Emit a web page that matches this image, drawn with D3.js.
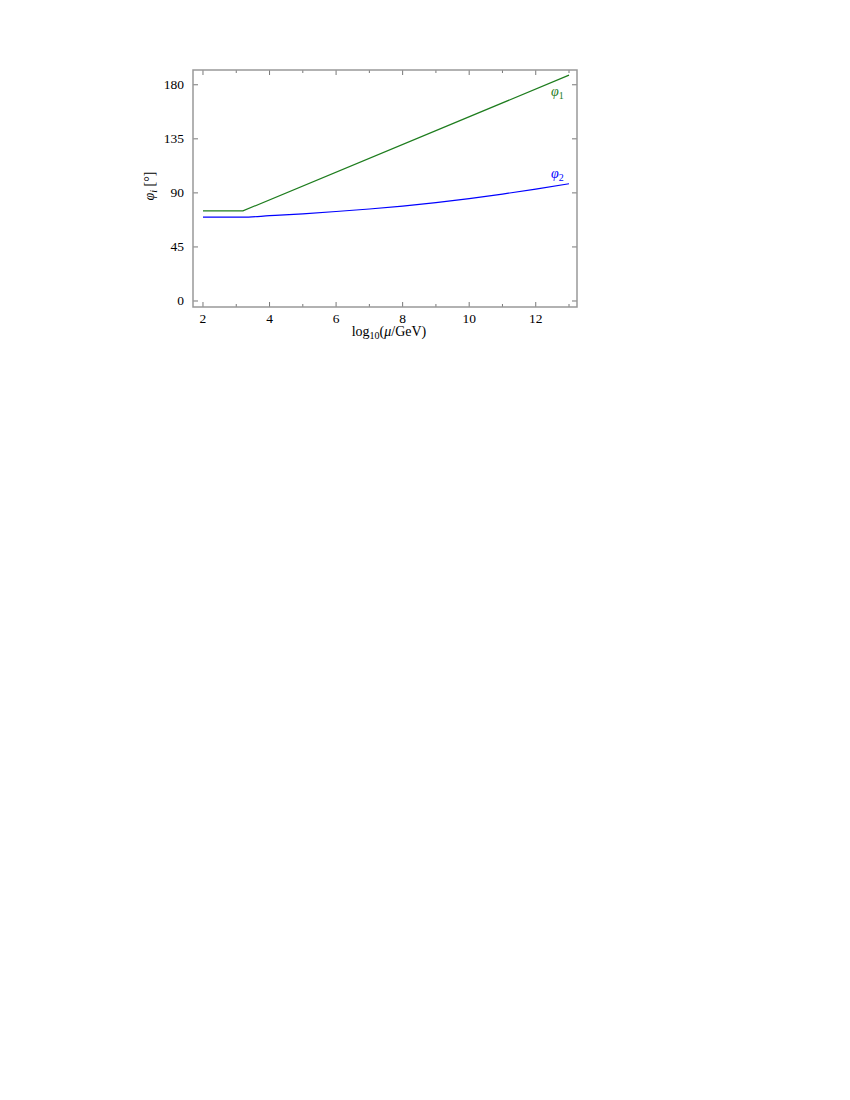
<!DOCTYPE html>
<html><head><meta charset="utf-8">
<script src="https://cdn.jsdelivr.net/npm/d3@7"></script>
<style>body{margin:0;background:#fff}text{font-family:"Liberation Serif","Times New Roman",serif}</style>
</head><body><svg id="c" width="850" height="1100"></svg>
<script>
const xMajor = [2,4,6,8,10,12];
const xMinor = [3,5,7,9,11,13];
const yTicks = [0,45,90,135,180];
const phi1X = [2, 3.2, 13];
const phi1Y = [75, 75, 188];
const phi2X = [2, 3.2, 4, 5, 6, 7, 8, 9, 10, 11, 12, 13];
const phi2Y = [69.8, 69.8, 71.0, 72.6, 74.5, 76.6, 79.0, 81.9, 85.2, 89.0, 93.2, 97.6];

const svg = d3.select("#c");
const L=193, R=577, T=70, B=307;
const x = d3.scaleLinear().domain([1.7,13.24]).range([L,R]);
const y = d3.scaleLinear().domain([-5,192.3]).range([B,T]);
const frame="#999";

const line = d3.line().x(d=>x(d[0])).y(d=>y(d[1]));
svg.append("path").datum(phi1X.map((v,i)=>[v,phi1Y[i]])).attr("d",line)
  .attr("fill","none").attr("stroke","#1e7d1e").attr("stroke-width",1.2);
svg.append("path").datum(phi2X.map((v,i)=>[v,phi2Y[i]])).attr("d",d3.line().curve(d3.curveMonotoneX).x(d=>x(d[0])).y(d=>y(d[1])))
  .attr("fill","none").attr("stroke","#0000ff").attr("stroke-width",1.2);

const g = svg.append("g");
const allX = xMajor.concat(xMinor);
allX.forEach(v=>{
  const len = xMajor.includes(v)?5:3;
  g.append("line").attr("x1",x(v)).attr("x2",x(v)).attr("y1",B).attr("y2",B-len).attr("stroke","#555").attr("stroke-width",0.8);
  g.append("line").attr("x1",x(v)).attr("x2",x(v)).attr("y1",T).attr("y2",T+len).attr("stroke","#555").attr("stroke-width",0.8);
});
yTicks.forEach(v=>{
  g.append("line").attr("x1",L).attr("x2",L+5).attr("y1",y(v)).attr("y2",y(v)).attr("stroke","#555").attr("stroke-width",0.8);
  g.append("line").attr("x1",R).attr("x2",R-5).attr("y1",y(v)).attr("y2",y(v)).attr("stroke","#555").attr("stroke-width",0.8);
});
g.append("rect").attr("x",L).attr("y",T).attr("width",R-L).attr("height",B-T)
  .attr("fill","none").attr("stroke",frame).attr("stroke-width",1.5);

xMajor.forEach(v=>{
  svg.append("text").attr("x",x(v)).attr("y",B+16).attr("text-anchor","middle").attr("font-size",13.5).text(v);
});
yTicks.forEach(v=>{
  svg.append("text").attr("x",L-9).attr("y",y(v)+4.5).attr("text-anchor","end").attr("font-size",13.5).text(v);
});

const xt = svg.append("text").attr("x",389).attr("y",336).attr("text-anchor","middle").attr("font-size",14);
xt.append("tspan").text("log");
xt.append("tspan").attr("font-size",10).attr("dy",3).text("10");
xt.append("tspan").attr("dy",-3).text("(");
xt.append("tspan").attr("font-style","italic").text("μ");
xt.append("tspan").text("/GeV)");

const yt = svg.append("text").attr("transform","translate(154,186) rotate(-90)").attr("text-anchor","middle").attr("font-size",14);
yt.append("tspan").attr("font-style","italic").text("φ");
yt.append("tspan").attr("font-style","italic").attr("font-size",10).attr("dy",3).text("i");
yt.append("tspan").attr("dy",-3).text(" [°]");

const l1 = svg.append("text").attr("x",551).attr("y",96).attr("fill","#1e7d1e").attr("font-size",14);
l1.append("tspan").attr("font-style","italic").text("φ");
l1.append("tspan").attr("font-size",10).attr("dy",3).text("1");
const l2 = svg.append("text").attr("x",551).attr("y",178).attr("fill","#0000ff").attr("font-size",14);
l2.append("tspan").attr("font-style","italic").text("φ");
l2.append("tspan").attr("font-size",10).attr("dy",3).text("2");
</script></body></html>
